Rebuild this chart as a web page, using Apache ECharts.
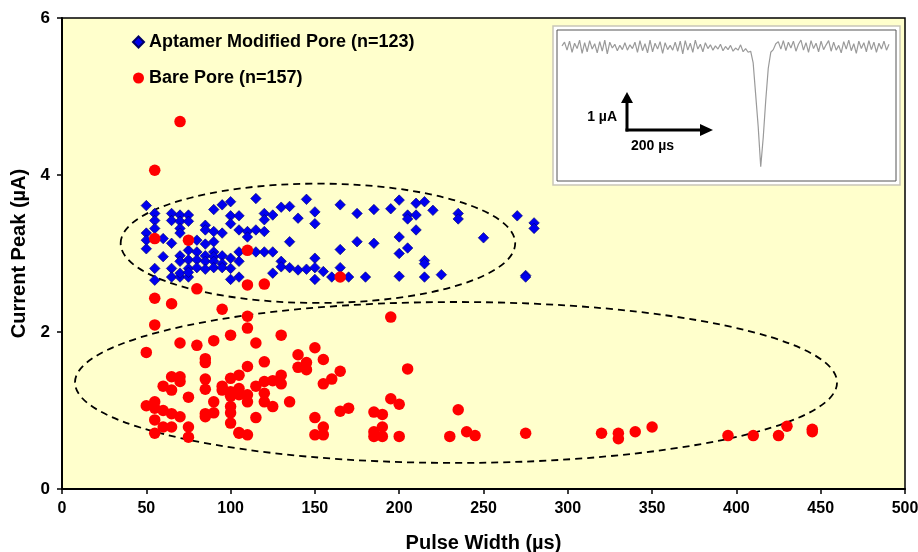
<!DOCTYPE html>
<html>
<head>
<meta charset="utf-8">
<script src="https://cdn.jsdelivr.net/npm/echarts@6/dist/echarts.min.js"></script>
<style>
html,body{margin:0;padding:0;background:#fff;}
#chart{width:918px;height:552px;}
</style>
</head>
<body>
<div id="chart"></div>
<script>
// ---- Data ----
const xTicks = [0, 50, 100, 150, 200, 250, 300, 350, 400, 450, 500];
const yTicks = [0, 2, 4, 6];

const aptamerName = 'Aptamer Modified Pore (n=123)';
const bareName = 'Bare Pore (n=157)';

const aptamerWidth = [50,90,95,100,115,130,135,145,
  55,65,70,75,100,105,120,125,140,150,
  55,65,70,75,85,100,120,150,
  55,70,85,90,95,105,110,115,120,
  50,70,110,135,
  50,60,65,80,85,90,
  50,75,80,90,105,115,120,125,
  60,70,85,90,95,100,
  70,75,80,85,90,95,105,130,150,
  55,65,75,80,85,90,95,100,130,135,140,145,150,155,
  55,65,70,75,70,75,100,105,125,150,160,
  165,175,185,195,200,205,205,210,210,215,220,235,235,270,280,280,
  210,200,175,185,250,205,200,165,215,215,165,170,180,200,215,225,275,275];
const aptamerPeak = [3.61,3.56,3.62,3.66,3.70,3.59,3.60,3.69,
  3.51,3.51,3.49,3.49,3.48,3.48,3.51,3.49,3.45,3.53,
  3.42,3.42,3.41,3.41,3.36,3.38,3.43,3.38,
  3.32,3.32,3.30,3.28,3.26,3.30,3.28,3.30,3.28,
  3.26,3.26,3.21,3.15,
  3.17,3.19,3.13,3.17,3.12,3.15,
  3.06,3.04,3.02,3.02,3.02,3.02,3.02,3.02,
  2.96,2.97,2.97,2.96,2.97,2.94,
  2.90,2.92,2.92,2.90,2.90,2.87,2.90,2.90,2.94,
  2.81,2.81,2.81,2.82,2.80,2.82,2.82,2.81,2.83,2.82,2.79,2.80,2.82,2.77,
  2.66,2.70,2.70,2.70,2.75,2.76,2.67,2.70,2.75,2.67,2.70,
  3.62,3.51,3.56,3.57,3.68,3.49,3.44,3.64,3.49,3.66,3.55,3.51,3.44,3.48,3.39,3.32,
  3.30,3.21,3.15,3.13,3.20,3.07,3.00,3.05,2.91,2.87,2.82,2.70,2.70,2.71,2.70,2.73,2.72,2.70];

const bareWidth = [70,55,55,75,110,80,110,120,55,165,65,95,55,100,70,80,90,50,85,85,
  65,70,70,60,65,85,85,95,95,100,100,100,75,50,55,55,60,65,70,90,
  85,85,90,100,100,55,60,65,75,55,75,100,105,110,115,105,110,105,105,110,
  110,115,120,120,120,120,115,105,110,110,195,130,150,140,145,145,140,155,165,160,
  155,125,130,130,125,135,150,155,150,155,165,170,185,190,185,190,185,190,195,200,
  200,205,235,230,240,245,275,320,330,330,340,350,395,410,425,430,445,445];
const barePeak = [4.68,4.06,3.19,3.17,3.04,2.55,2.60,2.61,2.43,2.70,2.36,2.29,2.09,1.96,1.86,1.83,1.89,1.74,1.66,1.61,
  1.43,1.43,1.37,1.31,1.26,1.40,1.27,1.31,1.26,1.41,1.24,1.18,1.17,1.06,1.11,1.03,1.00,0.96,0.92,1.11,
  0.96,0.92,0.97,1.05,0.97,0.88,0.79,0.79,0.79,0.71,0.66,0.84,0.71,2.05,1.86,1.45,1.56,1.28,1.20,1.20,
  1.11,1.31,1.62,1.37,1.22,1.11,0.91,0.72,0.69,2.20,2.19,1.96,1.80,1.71,1.61,1.52,1.55,1.65,1.50,1.40,
  1.34,1.38,1.45,1.34,1.05,1.11,0.91,0.79,0.69,0.69,0.99,1.03,0.98,0.95,0.73,0.79,0.67,0.67,1.15,1.08,
  0.67,1.53,1.01,0.67,0.73,0.68,0.71,0.71,0.71,0.64,0.73,0.79,0.68,0.68,0.68,0.80,0.76,0.73];

// dashed ellipses: [centre width, centre peak, half-width, half-height] in data units
const aptamerEllipse = [151.8, 3.13, 117, 0.76];
const bareEllipse = [233.7, 1.357, 226, 1.025];

// inset current trace (relative units)
const traceValues = [0.2,0.9,-0.6,1.1,-1.0,0.7,-0.3,1.3,-1.2,0.8,-0.9,1.2,-0.4,0.6,-1.1,1.0,-0.8,1.3,-1.3,0.9,
  -0.2,0.5,-0.7,0.3,-0.5,0.8,-0.6,0.4,-0.3,0.9,-1.0,1.2,-0.7,0.6,-1.1,1.3,-0.9,0.7,-0.4,1.0,
  -1.2,0.8,-0.5,0.3,-0.6,0.9,-0.8,1.1,-1.3,1.2,-0.6,0.7,-1.0,1.3,-0.4,0.5,-0.9,0.8,-0.3,0.4,
  -0.6,0.2,-0.4,0.5,-0.7,0.1,-0.5,0.3,-0.8,-0.2,-0.6,0.4,-0.9,-0.3,-1.0,-0.8,
  -3,-9,-15,-22.5,-17,-10,-4,-1,
  -0.5,0.6,1.0,-0.4,1.2,-0.7,0.9,-0.2,1.1,-0.8,0.5,1.3,-0.6,0.8,-1.0,1.2,-0.3,0.7,-0.9,1.1,
  -0.5,0.4,1.2,-0.8,0.9,-0.6,0.3,-1.1,1.0,-0.4,1.3,-0.7,0.6,-1.2,1.1,-0.3,0.8,-0.9,1.2,-0.5,
  0.9,-1.0,0.7,-0.4,1.1,-0.6,0.5];

// ---- Chart ----
const FONT = '"Liberation Sans", Arial, Helvetica, sans-serif';
const chart = echarts.init(document.getElementById('chart'), null, {renderer: 'canvas'});

const zip = (a, b) => a.map((v, i) => [v, b[i]]);

function ellipseItem(params, api) {
  const c = api.coord([api.value(0), api.value(1)]);
  const e = api.coord([api.value(0) + api.value(2), api.value(1) + api.value(3)]);
  return {
    type: 'ellipse',
    shape: {cx: c[0], cy: c[1], rx: Math.abs(e[0] - c[0]), ry: Math.abs(c[1] - e[1])},
    style: {fill: 'none', stroke: '#000', lineWidth: 1.8, lineDash: [7, 5]},
    silent: true
  };
}

const option = {
  animation: false,
  backgroundColor: '#fff',
  textStyle: {fontFamily: FONT},
  grid: [
    {left: 62, right: 13, top: 18, bottom: 63, show: true, backgroundColor: '#FFFFCC', borderColor: '#000', borderWidth: 1.5,
      containLabel: false, outerBoundsMode: 'none'},
    {left: 562, top: 31, width: 327, height: 149, show: false, containLabel: false, outerBoundsMode: 'none'}
  ],
  legend: {
    orient: 'vertical', left: 132, top: 33, itemGap: 18, padding: 0,
    itemWidth: 11, itemHeight: 11,
    textStyle: {fontFamily: FONT, fontWeight: 'bold', fontSize: 18, color: '#000', lineHeight: 18},
    data: [{name: aptamerName, icon: 'diamond'}, {name: bareName, icon: 'circle'}]
  },
  xAxis: [
    {type: 'value', gridIndex: 0, min: xTicks[0], max: xTicks[xTicks.length - 1], interval: 50,
      name: 'Pulse Width (µs)', nameLocation: 'middle', nameGap: 44,
      nameTextStyle: {fontFamily: FONT, fontWeight: 'bold', fontSize: 20, color: '#000'},
      axisLine: {lineStyle: {color: '#000', width: 2}},
      axisTick: {show: true, length: 5, lineStyle: {color: '#000', width: 1.5}},
      axisLabel: {fontFamily: FONT, fontWeight: 'bold', fontSize: 16, color: '#000', margin: 12},
      splitLine: {show: false}},
    {type: 'value', gridIndex: 1, min: 0, max: traceValues.length - 1, show: false}
  ],
  yAxis: [
    {type: 'value', gridIndex: 0, min: yTicks[0], max: yTicks[yTicks.length - 1], interval: 2,
      name: 'Current Peak (µA)', nameLocation: 'middle', nameGap: 33, nameRotate: 90,
      nameTextStyle: {fontFamily: FONT, fontWeight: 'bold', fontSize: 20, color: '#000'},
      axisLine: {show: true, lineStyle: {color: '#000', width: 2}},
      axisTick: {show: true, length: 5, lineStyle: {color: '#000', width: 1.5}},
      axisLabel: {fontFamily: FONT, fontWeight: 'bold', fontSize: 17, color: '#000', margin: 12},
      splitLine: {show: false}},
    {type: 'value', gridIndex: 1, min: -25, max: 3, show: false}
  ],
  series: [
    {type: 'custom', name: 'ellipses', xAxisIndex: 0, yAxisIndex: 0, z: 1, silent: true,
      renderItem: ellipseItem, data: [aptamerEllipse, bareEllipse], clip: false},
    {type: 'scatter', name: aptamerName, xAxisIndex: 0, yAxisIndex: 0, symbol: 'diamond', symbolSize: 10.5,
      itemStyle: {color: '#0000EE', borderColor: '#000066', borderWidth: 0.6, opacity: 1},
      data: zip(aptamerWidth, aptamerPeak), z: 3},
    {type: 'scatter', name: bareName, xAxisIndex: 0, yAxisIndex: 0, symbol: 'circle', symbolSize: 11.5,
      itemStyle: {color: '#FF0000', opacity: 1},
      data: zip(bareWidth, barePeak), z: 4},
    {type: 'line', name: 'trace', xAxisIndex: 1, yAxisIndex: 1, showSymbol: false, silent: true, z: 6,
      lineStyle: {color: '#9a9a9a', width: 1.2},
      data: traceValues.map((v, i) => [i, v])}
  ],
  graphic: [
    {type: 'rect', z: 5, shape: {x: 553, y: 26, width: 347, height: 159},
      style: {fill: '#fff', stroke: '#c9c6b8', lineWidth: 1.5}},
    {type: 'rect', z: 5, shape: {x: 557, y: 30, width: 339, height: 151},
      style: {fill: 'none', stroke: '#555', lineWidth: 1}},
    // scale bar
    {type: 'line', z: 7, shape: {x1: 627, y1: 131.5, x2: 627, y2: 101}, style: {stroke: '#000', lineWidth: 3}},
    {type: 'polygon', z: 7, shape: {points: [[627, 92], [621, 103], [633, 103]]}, style: {fill: '#000'}},
    {type: 'line', z: 7, shape: {x1: 625.5, y1: 130, x2: 702, y2: 130}, style: {stroke: '#000', lineWidth: 3}},
    {type: 'polygon', z: 7, shape: {points: [[713, 130], [700, 124], [700, 136]]}, style: {fill: '#000'}},
    {type: 'text', z: 7, style: {text: '1 µA', x: 617, y: 117, textAlign: 'right', textVerticalAlign: 'middle',
      font: 'bold 14px ' + FONT, fill: '#000'}},
    {type: 'text', z: 7, style: {text: '200 µs', x: 631, y: 146, textAlign: 'left', textVerticalAlign: 'middle',
      font: 'bold 14px ' + FONT, fill: '#000'}}
  ]
};
chart.setOption(option);
</script>
</body>
</html>
